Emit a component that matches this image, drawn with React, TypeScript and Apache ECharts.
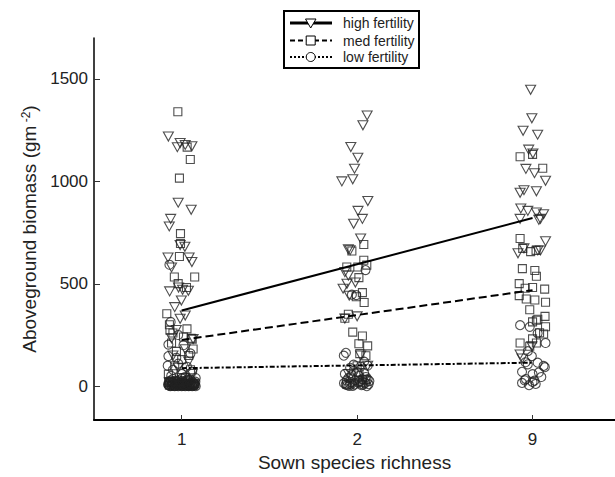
import React, { useEffect, useRef } from "react";
import * as echarts from "echarts";

// x categories (sown species richness) shown at positions 0,1,2
const richnessLabels = ["1", "2", "9"];
const yTicks = [0, 500, 1000, 1500];
const xTicks = [0, 1, 2];

// [jitter offset, biomass] per fertility level & richness
const high1 = [
  [-0.076, 1219], [-0.009, 1187], [-0.025, 1167], [0.058, 1171], [0.02, 1178],
  [-0.02, 896], [0.054, 861], [-0.063, 817], [-0.071, 780],
  [-0.009, 689], [0.018, 681], [-0.078, 628], [0.042, 628], [0.058, 606], [-0.058, 580],
  [-0.069, 463], [-0.018, 482], [0.038, 466], [0.005, 471], [-0.002, 418], [-0.04, 386],
  [-0.009, 329], [-0.031, 274], [0.02, 345], [-0.058, 234], [0.02, 180], [-0.05, 150],
  [0.04, 120], [-0.02, 90], [0.06, 60], [0.0, 40], [-0.07, 20], [0.03, 10], [0.065, 230],
];
const med1 = [
  [-0.022, 1340], [0.031, 1167], [0.049, 1107], [-0.013, 1016], [-0.007, 745], [-0.007, 697],
  [-0.013, 633], [-0.042, 533], [0.074, 533], [-0.02, 501], [0.027, 482], [-0.085, 354],
  [-0.067, 274], [0.054, 234], [0.06, 230], [-0.058, 211], [0.065, 182], [-0.076, 59],
  [0.0, 130], [-0.04, 100], [0.05, 80], [0.02, 40], [-0.06, 25], [0.07, 10], [-0.01, 15],
  [0.04, 150], [-0.03, 170], [0.01, 240], [-0.07, 300], [0.03, 280], [-0.05, 260],
  [-0.07, 5], [-0.04, 12], [-0.01, 3], [0.02, 8], [0.05, 2], [0.075, 14], [-0.055, 0], [0.035, 0],
  [-0.075, 18], [-0.045, 6], [-0.025, 16], [0.005, 6], [0.025, 17], [0.045, 7], [0.065, 4],
];
const low1 = [
  [-0.07, 593], [-0.063, 314], [-0.076, 203], [-0.076, 147], [-0.031, 139], [0.01, 200],
  [-0.02, 250], [0.05, 160], [-0.08, 100], [-0.05, 80], [-0.02, 110], [0.03, 95], [0.06, 70],
  [0.08, 40], [-0.06, 50], [0.0, 60], [0.04, 30], [-0.075, 5], [-0.06, 8], [-0.045, 4],
  [-0.03, 10], [-0.015, 6], [0.0, 3], [0.015, 9], [0.03, 5], [0.045, 8], [0.06, 4], [0.075, 7],
  [-0.07, 20], [-0.05, 18], [-0.03, 22], [-0.01, 17], [0.01, 20], [0.03, 24], [0.05, 18],
  [0.07, 15], [-0.065, 0], [-0.04, 0], [-0.02, 0], [0.0, 0], [0.02, 0], [0.04, 0], [0.06, 0],
  [0.08, 0], [-0.05, 35], [0.0, 38], [0.05, 33], [0.02, 45],
  [-0.072, 12], [-0.057, 2], [-0.037, 14], [-0.022, 3], [-0.007, 11], [0.008, 1], [0.023, 13],
  [0.038, 2], [0.053, 11], [0.068, 1], [0.078, 22], [-0.062, 28], [-0.017, 28], [0.028, 30],
  [-0.078, 9], [-0.052, 10], [-0.033, 1], [-0.012, 9], [0.012, 5], [0.033, 10], [0.057, 6],
  [0.072, 10], [-0.042, 25], [0.005, 26], [0.045, 24], [0.065, 19],
];
const high2 = [
  [0.057, 1322], [0.033, 1274], [-0.036, 1168], [0.004, 1115], [-0.015, 1062], [-0.087, 1000],
  [-0.025, 1010], [0.061, 904], [0.005, 856], [0.03, 817], [-0.02, 793], [0.02, 721],
  [-0.05, 668], [-0.04, 664], [-0.07, 557], [-0.05, 540], [-0.01, 506], [-0.08, 476],
  [-0.058, 500], [-0.045, 442], [-0.07, 330], [0.0, 341], [0.02, 150], [-0.05, 60],
  [0.04, 30], [-0.02, 10], [0.06, 100],
];
const med2 = [
  [0.038, 692], [-0.03, 660], [0.038, 615], [0.004, 582], [0.055, 591], [-0.059, 582],
  [0.01, 530], [0.03, 457], [-0.005, 437], [0.04, 409], [-0.05, 351], [-0.07, 332],
  [-0.025, 264], [0.03, 245], [0.01, 207], [0.06, 197], [0.05, 149], [0.015, 159],
  [0.01, 67], [-0.04, 40], [0.03, 20], [-0.06, 10], [0.0, 100], [0.05, 30],
];
const low2 = [
  [0.048, 567], [-0.03, 447], [-0.005, 445], [-0.076, 149], [-0.064, 163], [0.04, 120],
  [-0.02, 105], [0.02, 95], [-0.04, 90], [0.06, 100], [-0.07, 60], [-0.05, 40], [-0.03, 55],
  [-0.01, 30], [0.01, 50], [0.03, 35], [0.05, 45], [0.07, 25], [-0.075, 15], [-0.055, 5],
  [-0.035, 20], [-0.015, 8], [0.005, 18], [0.025, 5], [0.045, 15], [0.065, 10], [-0.06, 28],
  [0.0, 70], [0.04, 65], [-0.02, 75], [0.02, 12], [-0.045, 2], [0.055, 0],
  [-0.065, 8], [-0.025, 2], [0.015, 25], [0.06, 35], [-0.04, 12], [0.035, 8],
];
const high9 = [
  [-0.011, 1447], [-0.004, 1308], [-0.054, 1247], [0.029, 1228], [-0.022, 1155], [0.002, 1136],
  [-0.038, 1061], [0.011, 1040], [0.074, 1003], [-0.071, 944], [-0.049, 957], [0.022, 952],
  [-0.067, 868], [-0.027, 856], [0.022, 848], [0.063, 840], [-0.071, 817], [0.045, 817],
  [0.036, 812], [0.074, 708], [-0.083, 649], [-0.049, 673], [0.03, 663], [0.045, 663],
  [-0.071, 155], [-0.004, 195], [-0.06, 135],
];
const med9 = [
  [-0.071, 1120], [0.0, 1132], [0.058, 1064], [-0.071, 721], [-0.056, 673], [-0.011, 657],
  [0.02, 663], [-0.058, 574], [0.013, 565], [0.022, 537], [-0.076, 501], [-0.042, 478],
  [0.0, 482], [0.069, 474], [-0.076, 442], [-0.036, 426], [0.013, 421], [0.074, 410],
  [-0.016, 373], [0.071, 341], [0.022, 322], [0.0, 314], [0.074, 290], [0.063, 255],
  [0.0, 231], [-0.071, 211], [0.022, 211], [-0.016, 195], [0.04, 261], [0.03, 327],
];
const low9 = [
  [-0.071, 298], [-0.016, 290], [0.029, 258], [0.074, 211], [-0.027, 171], [-0.004, 147],
  [0.029, 115], [-0.027, 107], [0.063, 99], [-0.06, 70], [0.0, 59], [0.036, 67],
  [-0.038, 35], [0.011, 27], [-0.06, 16], [0.018, 11], [-0.04, 117], [0.07, 93],
  [0.05, 45], [0.0, 21], [-0.045, 29], [-0.02, 5],
];

// regression line end values at richness 1 and 9
const highFit = [370, 821];
const medFit = [226, 469];
const lowFit = [88, 115];

const FONT = '"Liberation Sans", Arial, sans-serif';
const TRI = "path://M0,0L10,0L5,9Z";

function place(groups: number[][][]) {
  const out: number[][] = [];
  groups.forEach((g, i) => g.forEach(([dx, v]) => out.push([i + dx, v])));
  return out;
}

export default function App() {
  const ref = useRef<HTMLDivElement>(null);
  useEffect(() => {
    if (!ref.current) return;
    const chart = echarts.init(ref.current, null, { renderer: "svg" });
    const markerStyle = { color: "rgba(0,0,0,0)", borderColor: "#222", borderWidth: 1.1 };
    chart.setOption({
      animation: false,
      backgroundColor: "#fff",
      grid: { left: 94, right: 0, top: 38, bottom: 52, containLabel: false },
      xAxis: {
        type: "value",
        min: -0.5,
        max: 2.47,
        axisLine: { show: true, onZero: false, lineStyle: { color: "#000", width: 2 } },
        axisTick: { show: true, inside: true, length: 5, customValues: xTicks, lineStyle: { color: "#333" } },
        axisLabel: {
          customValues: xTicks,
          formatter: (v: number) => richnessLabels[Math.round(v)] ?? "",
          fontSize: 17,
          color: "#222",
          fontFamily: FONT,
          margin: 11,
        },
        splitLine: { show: false },
        name: "Sown species richness",
        nameLocation: "middle",
        nameGap: 33,
        nameTextStyle: { fontSize: 19, color: "#222", fontFamily: FONT },
      },
      yAxis: {
        type: "value",
        min: -165,
        max: 1700,
        axisLine: { show: true, onZero: false, lineStyle: { color: "#000", width: 1.5 } },
        axisTick: { show: true, inside: true, length: 6, customValues: yTicks, lineStyle: { color: "#333" } },
        axisLabel: {
          customValues: yTicks,
          formatter: (v: number) => String(v),
          fontSize: 17,
          color: "#222",
          fontFamily: FONT,
          margin: 6,
        },
        splitLine: { show: false },
        name: "{a|Aboveground biomass (gm}{s| -2}{a|)}",
        nameLocation: "middle",
        nameGap: 50,
        nameTextStyle: {
          color: "#222",
          fontFamily: FONT,
          rich: {
            a: { fontSize: 19, color: "#222", fontFamily: FONT },
            s: { fontSize: 12, color: "#222", fontFamily: FONT, verticalAlign: "top", padding: [0, 0, 8, 0] },
          },
        },
      },
      series: [
        { type: "scatter", symbol: TRI, symbolSize: [10, 9], data: place([high1, high2, high9]), itemStyle: markerStyle, z: 2 },
        { type: "scatter", symbol: "rect", symbolSize: 8, data: place([med1, med2, med9]), itemStyle: markerStyle, z: 2 },
        { type: "scatter", symbol: "circle", symbolSize: 9, data: place([low1, low2, low9]), itemStyle: markerStyle, z: 2 },
        { type: "line", data: [[0, highFit[0]], [2, highFit[1]]], symbol: "none", lineStyle: { color: "#000", width: 2 }, z: 5 },
        { type: "line", data: [[0, medFit[0]], [2, medFit[1]]], symbol: "none", lineStyle: { color: "#000", width: 2, type: [8, 4] }, z: 5 },
        { type: "line", data: [[0, lowFit[0]], [2, lowFit[1]]], symbol: "none", lineStyle: { color: "#000", width: 2, type: [5, 2, 2, 2] }, z: 5 },
      ],
      graphic: [
        { type: "rect", shape: { x: 284, y: 11, width: 135, height: 57 }, style: { fill: "#fff", stroke: "#000", lineWidth: 2 }, z: 10 },
        { type: "line", shape: { x1: 290, y1: 23, x2: 332, y2: 23 }, style: { stroke: "#000", lineWidth: 3 }, z: 11 },
        { type: "polygon", shape: { points: [[305.5, 19], [316, 19], [310.7, 28]] }, style: { fill: "#fff", stroke: "#000", lineWidth: 1 }, z: 12 },
        { type: "line", shape: { x1: 290, y1: 40.5, x2: 332, y2: 40.5 }, style: { stroke: "#000", lineWidth: 2, lineDash: [5, 3] }, z: 11 },
        { type: "rect", shape: { x: 306.2, y: 36, width: 9, height: 9 }, style: { fill: "#fff", stroke: "#000", lineWidth: 1 }, z: 12 },
        { type: "line", shape: { x1: 290, y1: 57, x2: 332, y2: 57 }, style: { stroke: "#000", lineWidth: 2, lineDash: [2, 2] }, z: 11 },
        { type: "circle", shape: { cx: 310.7, cy: 57, r: 4.5 }, style: { fill: "#fff", stroke: "#000", lineWidth: 1 }, z: 12 },
        { type: "text", x: 343, y: 23, style: { text: "high fertility", font: `14px ${FONT}`, fill: "#222", verticalAlign: "middle" }, z: 12 },
        { type: "text", x: 343, y: 40.5, style: { text: "med fertility", font: `14px ${FONT}`, fill: "#222", verticalAlign: "middle" }, z: 12 },
        { type: "text", x: 343, y: 57, style: { text: "low fertility", font: `14px ${FONT}`, fill: "#222", verticalAlign: "middle" }, z: 12 },
      ],
    });
    return () => chart.dispose();
  }, []);
  return <div ref={ref} style={{ position: "absolute", left: 0, top: 0, width: 615, height: 477 }} />;
}
